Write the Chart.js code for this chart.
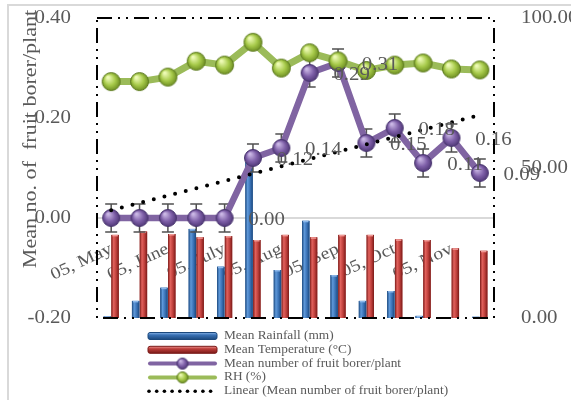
<!DOCTYPE html>
<html>
<head>
<meta charset="utf-8">
<title>Fruit borer incidence and weather</title>
<script src="https://cdn.jsdelivr.net/npm/chart.js@4.4.1/dist/chart.umd.min.js"></script>
<style>
  html, body { margin: 0; padding: 0; background: #ffffff; }
  canvas { display: block; }
</style>
</head>
<body>
<canvas id="chart" width="571" height="400"></canvas>
<script>
// Fortnightly observations; only every second date is labelled on the axis.
const tickLabels = ['05, May', '', '05, June', '', '05, July', '', '05, Aug', '', '05, Sep', '', '05, Oct', '', '05, Nov', ''];

// Weather (right axis)
const rainfall    = [0.5, 5.7, 10.1, 29.7, 17.1, 52.0, 16.0, 32.4, 14.3, 5.7, 9.0, 0.7, 0.2, 0.4];
const temperature = [27.7, 28.8, 28.0, 26.9, 27.3, 26.0, 27.7, 26.9, 27.7, 27.7, 26.2, 26.0, 23.2, 22.4];
const humidity    = [78.8, 78.8, 80.3, 85.6, 84.3, 91.9, 83.3, 88.4, 85.7, 82.5, 84.3, 85.0, 83.0, 82.7];

// Pest counts (left axis) and their error bar half-width
const borer      = [0.00, 0.00, 0.00, 0.00, 0.00, 0.12, 0.14, 0.29, 0.31, 0.15, 0.18, 0.11, 0.16, 0.09];
const borerError = 0.028;
const firstLabelled = 4;   // value labels start at this observation

const leftTitle = 'Mean no. of  fruit borer/plant';
const SERIF = "'Liberation Serif', 'Times New Roman', serif";
const GREY_TEXT = '#595959';

// Text in this chart is set slightly wide.
const TEXT_STRETCH = 1.16;
const baseFillText = CanvasRenderingContext2D.prototype.fillText;
CanvasRenderingContext2D.prototype.fillText = function (text, x, y, maxWidth) {
  this.save();
  this.translate(x, y);
  this.scale(TEXT_STRETCH, 1);
  if (maxWidth === undefined) baseFillText.call(this, text, 0, 0);
  else baseFillText.call(this, text, 0, 0, maxWidth / TEXT_STRETCH);
  this.restore();
};

// Least-squares straight line through the pest counts.
function linearTrend(values) {
  const n = values.length;
  const mx = (n - 1) / 2;
  const my = values.reduce((a, b) => a + b, 0) / n;
  let sxy = 0, sxx = 0;
  values.forEach((v, i) => { sxy += (i - mx) * (v - my); sxx += (i - mx) * (i - mx); });
  const slope = sxy / sxx;
  return values.map((_, i) => my + slope * (i - mx));
}

// Glossy marker drawn once into a small canvas.
function makeBall(r, light, mid, dark, edge) {
  const size = Math.ceil(r * 2 + 2);
  const c = document.createElement('canvas');
  c.width = c.height = size;
  const g = c.getContext('2d');
  const cx = size / 2, cy = size / 2;
  const grad = g.createRadialGradient(cx - r * 0.35, cy - r * 0.45, r * 0.1, cx, cy, r);
  grad.addColorStop(0, light);
  grad.addColorStop(0.55, mid);
  grad.addColorStop(1, dark);
  g.beginPath();
  g.arc(cx, cy, r - 0.5, 0, Math.PI * 2);
  g.fillStyle = grad;
  g.fill();
  g.lineWidth = 1;
  g.strokeStyle = edge;
  g.stroke();
  return c;
}

const purpleBall = makeBall(9, '#C9B6E4', '#7E5FA8', '#4C3573', '#4A3670');
const greenBall  = makeBall(9.5, '#EEFBB6', '#A7CA4A', '#6A8A20', '#5C7A1E');
const purpleBallSmall = makeBall(6, '#C9B6E4', '#7E5FA8', '#4C3573', '#4A3670');
const greenBallSmall  = makeBall(6, '#EEFBB6', '#A7CA4A', '#6A8A20', '#5C7A1E');

const barShades = {
  blue: { dark: '#1B487D', light: '#5F99DA', mid: '#3A72B6', cap: '#8DB8EA' },
  red:  { dark: '#7A1A18', light: '#E2625D', mid: '#BE3F3B', cap: '#F09A96' }
};

const RAIN = 0, TEMP = 1, BORER = 2, RH = 3, TREND = 4;

const chartDecor = {
  id: 'chartDecor',
  beforeDatasetDraw(chart, args) {
    if (args.index !== BORER) return;
    const { ctx } = chart;
    const ys = chart.scales.y;
    const meta = chart.getDatasetMeta(BORER);
    ctx.save();
    ctx.strokeStyle = '#505050';
    ctx.lineWidth = 1.5;
    meta.data.forEach((pt, i) => {
      const top = ys.getPixelForValue(borer[i] + borerError);
      const bot = ys.getPixelForValue(borer[i] - borerError);
      ctx.beginPath();
      ctx.moveTo(pt.x, top); ctx.lineTo(pt.x, bot);
      ctx.moveTo(pt.x - 6, top); ctx.lineTo(pt.x + 6, top);
      ctx.moveTo(pt.x - 6, bot); ctx.lineTo(pt.x + 6, bot);
      ctx.stroke();
    });
    ctx.restore();
  },
  afterDatasetDraw(chart, args) {
    if (args.index !== RAIN && args.index !== TEMP) return;
    const shade = args.index === RAIN ? barShades.blue : barShades.red;
    const { ctx } = chart;
    ctx.save();
    args.meta.data.forEach(bar => {
      const left = bar.x - bar.width / 2;
      const h = bar.base - bar.y;
      if (h <= 0) return;
      const g = ctx.createLinearGradient(left, 0, left + bar.width, 0);
      g.addColorStop(0, shade.dark);
      g.addColorStop(0.3, shade.light);
      g.addColorStop(0.65, shade.mid);
      g.addColorStop(1, shade.dark);
      ctx.fillStyle = g;
      ctx.fillRect(left, bar.y, bar.width, h);
      ctx.fillStyle = shade.cap;
      ctx.fillRect(left + 1, bar.y, bar.width - 2, Math.min(1.5, h));
    });
    ctx.restore();
  },
  afterDatasetsDraw(chart) {
    const { ctx, chartArea: a } = chart;
    // value labels
    const meta = chart.getDatasetMeta(BORER);
    ctx.save();
    ctx.font = '18px ' + SERIF;
    ctx.fillStyle = GREY_TEXT;
    ctx.textAlign = 'center';
    ctx.textBaseline = 'middle';
    meta.data.forEach((pt, i) => {
      if (i < firstLabelled) return;
      ctx.fillText(borer[i].toFixed(2), pt.x + 42, pt.y + 2);
    });
    ctx.restore();
    // plot-area frame, long dash - dot - dot
    ctx.save();
    ctx.strokeStyle = '#000000';
    ctx.lineWidth = 2;
    ctx.setLineDash([15, 6, 2, 6, 2, 6]);
    ctx.strokeRect(a.left, a.top, a.right - a.left, a.bottom - a.top);
    ctx.restore();
  },
  afterDraw(chart) {
    const { ctx } = chart;
    // outer frame
    ctx.save();
    ctx.strokeStyle = '#D9D9D9';
    ctx.lineWidth = 2;
    ctx.beginPath();
    ctx.moveTo(8, 402); ctx.lineTo(8, 5); ctx.lineTo(575, 5);
    ctx.stroke();
    ctx.restore();

    // left axis title
    ctx.save();
    ctx.translate(31, 139);
    ctx.rotate(-Math.PI / 2);
    ctx.font = '19px ' + SERIF;
    ctx.fillStyle = GREY_TEXT;
    ctx.textAlign = 'center';
    ctx.textBaseline = 'middle';
    ctx.fillText(leftTitle, 0, 0);
    ctx.restore();

    // legend
    const x0 = 148, x1 = 217, textX = 224, y0 = 336, step = 13.8;
    const kinds = ['bar', 'bar', 'ball', 'ball', 'dots'];
    ctx.save();
    ctx.font = '11.5px ' + SERIF;
    ctx.textBaseline = 'middle';
    ctx.textAlign = 'left';
    chart.data.datasets.forEach((ds, i) => {
      const y = y0 + i * step;
      const kind = kinds[i];
      if (kind === 'bar') {
        const shade = i === RAIN ? barShades.blue : barShades.red;
        const g = ctx.createLinearGradient(0, y - 3.5, 0, y + 3.5);
        g.addColorStop(0, shade.cap);
        g.addColorStop(0.35, shade.mid);
        g.addColorStop(1, shade.dark);
        ctx.fillStyle = g;
        ctx.beginPath();
        ctx.roundRect(x0, y - 3.5, x1 - x0, 7, 2);
        ctx.fill();
        ctx.strokeStyle = shade.dark;
        ctx.lineWidth = 1;
        ctx.stroke();
      } else if (kind === 'ball') {
        ctx.strokeStyle = ds.borderColor;
        ctx.lineWidth = 4;
        ctx.lineCap = 'round';
        ctx.beginPath();
        ctx.moveTo(x0 + 2, y); ctx.lineTo(x1 - 2, y);
        ctx.stroke();
        const img = i === BORER ? purpleBallSmall : greenBallSmall;
        ctx.drawImage(img, (x0 + x1) / 2 - img.width / 2, y - img.height / 2);
      } else {
        ctx.fillStyle = '#000000';
        for (let k = 0; k < 9; k++) {
          ctx.beginPath();
          ctx.arc(x0 + 1 + k * 7.7, y, 1.8, 0, Math.PI * 2);
          ctx.fill();
        }
      }
      ctx.fillStyle = GREY_TEXT;
      ctx.fillText(ds.label, textX, y);
    });
    ctx.restore();
  }
};

const tickFont = { family: SERIF, size: 18 };

// Fixed axis widths; tick labels may overhang the plot area without pushing it.
function fixedWidth(w) {
  return scale => {
    scale.width = w;
    scale.paddingTop = 0;
    scale.paddingBottom = 0;
  };
}

new Chart(document.getElementById('chart'), {
  data: {
    labels: tickLabels,
    datasets: [
      {
        type: 'bar', label: 'Mean Rainfall (mm)', data: rainfall, yAxisID: 'y1',
        backgroundColor: '#3A72B6', borderWidth: 0, order: 3,
        categoryPercentage: 0.55, barPercentage: 0.95
      },
      {
        type: 'bar', label: 'Mean Temperature (°C)', data: temperature, yAxisID: 'y1',
        backgroundColor: '#BE3F3B', borderWidth: 0, order: 4,
        categoryPercentage: 0.55, barPercentage: 0.95
      },
      {
        type: 'line', label: 'Mean number of fruit borer/plant', data: borer, yAxisID: 'y',
        borderColor: '#8064A2', borderWidth: 6.5, tension: 0,
        pointStyle: purpleBall, pointRadius: 9, order: 2
      },
      {
        type: 'line', label: 'RH (%)', data: humidity, yAxisID: 'y1',
        borderColor: '#9BBB59', borderWidth: 7, tension: 0,
        pointStyle: greenBall, pointRadius: 9, order: 1
      },
      {
        type: 'line', label: 'Linear (Mean number of fruit borer/plant)', data: linearTrend(borer), yAxisID: 'y',
        borderColor: '#000000', borderWidth: 4, borderDash: [0, 11], borderCapStyle: 'round',
        pointRadius: 0, tension: 0, order: 0
      }
    ]
  },
  options: {
    responsive: false,
    animation: false,
    devicePixelRatio: 1,
    layout: { padding: { top: 18, bottom: 82, left: 0, right: 0 } },
    plugins: { legend: { display: false }, tooltip: { enabled: false } },
    scales: {
      x: {
        type: 'category',
        position: { y: 0 },
        offset: true,
        grid: { display: false },
        border: { display: true, color: '#D9D9D9', width: 2 },
        ticks: {
          autoSkip: false, minRotation: 25, maxRotation: 25, padding: 13,
          color: GREY_TEXT, font: { family: SERIF, size: 17 }
        },
        afterFit(scale) { scale.height = 0; scale.paddingLeft = 0; scale.paddingRight = 0; }
      },
      y: {
        position: 'left', min: -0.2, max: 0.4,
        grid: { display: false }, border: { display: false },
        ticks: { stepSize: 0.2, padding: 18, color: GREY_TEXT, font: tickFont, callback: v => v.toFixed(2) },
        afterFit: fixedWidth(97)
      },
      y1: {
        position: 'right', min: 0, max: 100,
        grid: { display: false }, border: { display: false },
        ticks: { stepSize: 50, padding: 19, color: GREY_TEXT, font: tickFont, callback: v => v.toFixed(2) },
        afterFit: fixedWidth(77)
      }
    }
  },
  plugins: [chartDecor]
});
</script>
</body>
</html>
